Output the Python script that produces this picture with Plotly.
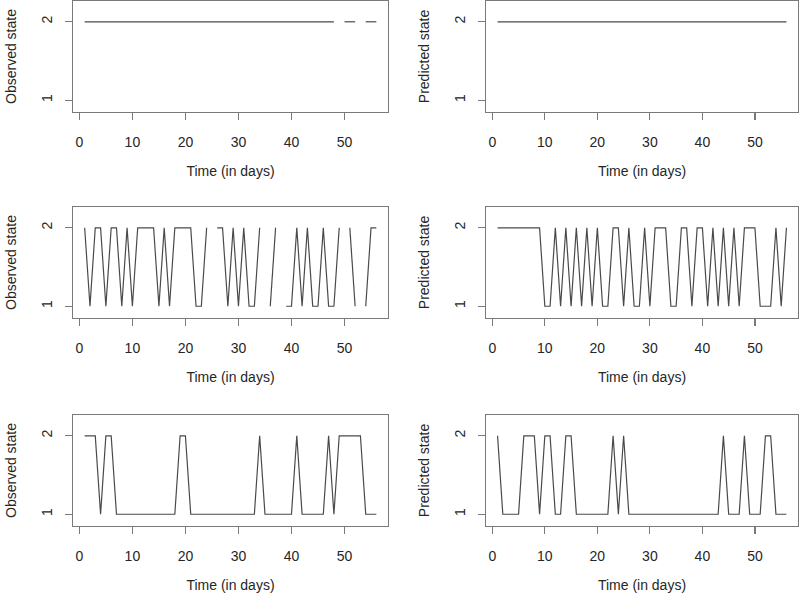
import plotly.graph_objects as go

days = list(range(1, 57))
N = None

obs_1 = [2] * 48 + [N] + [2, 2, 2] + [N] + [2, 2, 2]
pred_1 = [2] * 56

obs_2 = [2, 1, 2, 2, 1, 2, 2, 1, 2, 1,
         2, 2, 2, 2, 1, 2, 1, 2, 2, 2,
         2, 1, 1, 2, N, 2, 2, 1, 2, 1,
         2, 1, 1, 2, N, 1, 2, N, 1, 1,
         2, 1, 2, 1, 1, 2, 1, 1, 2, N,
         2, 1, N, 1, 2, 2]
pred_2 = [2, 2, 2, 2, 2, 2, 2, 2, 2, 1,
          1, 2, 1, 2, 1, 2, 1, 2, 1, 2,
          1, 1, 2, 2, 1, 2, 1, 1, 2, 1,
          2, 2, 2, 1, 1, 2, 2, 1, 2, 2,
          1, 2, 1, 2, 1, 2, 1, 2, 2, 2,
          1, 1, 1, 2, 1, 2]

obs_3 = [2, 2, 2, 1, 2, 2, 1, 1, 1, 1,
         1, 1, 1, 1, 1, 1, 1, 1, 2, 2,
         1, 1, 1, 1, 1, 1, 1, 1, 1, 1,
         1, 1, 1, 2, 1, 1, 1, 1, 1, 1,
         2, 1, 1, 1, 1, 1, 2, 1, 2, 2,
         2, 2, 2, 1, 1, 1]
pred_3 = [2, 1, 1, 1, 1, 2, 2, 2, 1, 2,
          2, 1, 1, 2, 2, 1, 1, 1, 1, 1,
          1, 1, 2, 1, 2, 1, 1, 1, 1, 1,
          1, 1, 1, 1, 1, 1, 1, 1, 1, 1,
          1, 1, 1, 2, 1, 1, 1, 2, 1, 1,
          1, 2, 2, 1, 1, 1]

series = [obs_1, pred_1, obs_2, pred_2, obs_3, pred_3]
ytitles = ["Observed state", "Predicted state"] * 3
xtitle = "Time (in days)"
xticks = [0, 10, 20, 30, 40, 50]
yticks = [1, 2]

W, H = 800, 601
col_px = [(73, 388), (486, 798)]
row_px = [(1, 112), (207, 318), (415, 526)]

FONT = "Liberation Sans, Arial, sans-serif"
LINE = "#4a4a4a"
AXC = "#7a7a7a"
TXT = "#262626"

fig = go.Figure()
layout = dict(
    width=W, height=H, margin=dict(l=0, r=0, t=0, b=0),
    paper_bgcolor="white", plot_bgcolor="white", showlegend=False,
    font=dict(family=FONT, size=14, color=TXT),
)

for i, ys in enumerate(series):
    r, c = divmod(i, 2)
    n = i + 1
    xa = "x" if n == 1 else f"x{n}"
    ya = "y" if n == 1 else f"y{n}"
    fig.add_trace(go.Scatter(x=days, y=ys, mode="lines", connectgaps=False,
                             line=dict(color=LINE, width=1.2),
                             xaxis=xa, yaxis=ya, hoverinfo="skip"))
    x0, x1 = col_px[c]
    y0, y1 = row_px[r]
    layout["xaxis" if n == 1 else f"xaxis{n}"] = dict(
        domain=[x0 / W, x1 / W], anchor=ya, range=[-1.2, 58.2],
        showgrid=False, zeroline=False, showline=True, mirror=True,
        linecolor=AXC, linewidth=1.2, ticks="outside", ticklen=7,
        tickcolor=AXC, tickwidth=1.2, tickvals=xticks,
        ticktext=[str(v) for v in xticks], ticklabelstandoff=10,
        tickfont=dict(size=14, color=TXT),
        title=dict(text=xtitle, font=dict(size=14, color=TXT), standoff=17),
    )
    layout["yaxis" if n == 1 else f"yaxis{n}"] = dict(
        domain=[1 - y1 / H, 1 - y0 / H], anchor=xa, range=[0.85, 2.265],
        showgrid=False, zeroline=False, showline=True, mirror=True,
        linecolor=AXC, linewidth=1.2, ticks="outside", ticklen=7,
        tickcolor=AXC, tickwidth=1.2, tickvals=yticks,
        ticktext=[str(v) for v in yticks], tickangle=-90, ticklabelstandoff=7,
        tickfont=dict(size=14, color=TXT),
        title=dict(text=ytitles[i], font=dict(size=14, color=TXT), standoff=19),
    )

fig.update_layout(**layout)
fig.write_html("out.html", config={"displayModeBar": False, "staticPlot": True},
               post_script="document.body.style.margin='0';document.body.style.overflow='hidden';")
